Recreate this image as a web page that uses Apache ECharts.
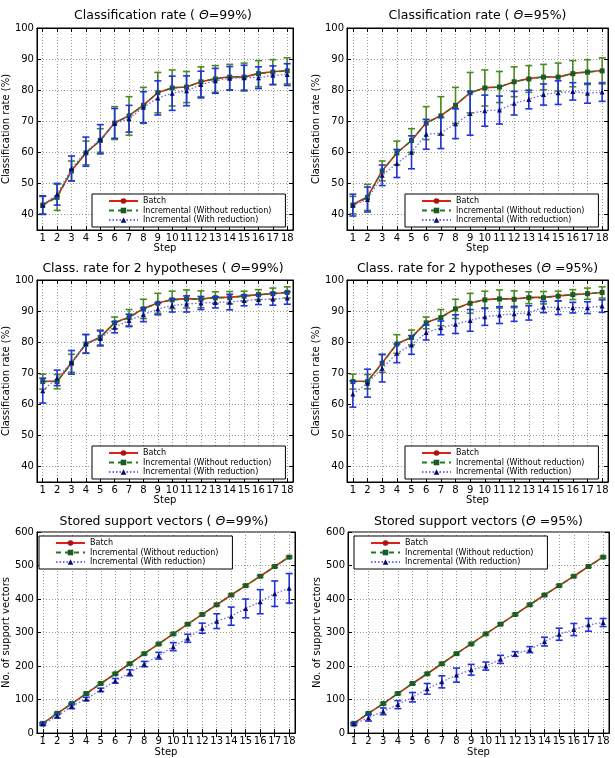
<!DOCTYPE html>
<html>
<head>
<meta charset="utf-8">
<script src="https://cdn.jsdelivr.net/npm/echarts@6/dist/echarts.min.js"></script>
<style>html,body{margin:0;padding:0;background:#fff}#main{width:615px;height:758px}</style>
</head>
<body>
<div id="main"></div>
<script>
// ---- data ----
var steps = [1, 2, 3, 4, 5, 6, 7, 8, 9, 10, 11, 12, 13, 14, 15, 16, 17, 18];
var rateTicks = [40, 50, 60, 70, 80, 90, 100];
var svTicks = [0, 100, 200, 300, 400, 500, 600];

// classification rate, same for both thresholds (batch / incremental without reduction)
var rateBatch = [43.2, 45.7, 54.1, 59.8, 63.8, 69.5, 71.8, 75.2, 79.2, 80.8, 81.0, 82.7, 83.7, 84.3, 84.2, 85.4, 85.9, 86.3];
var rateIncr = [43.0, 45.5, 54.0, 59.8, 63.8, 69.4, 71.7, 75.1, 79.2, 80.7, 81.0, 82.7, 83.6, 84.2, 84.2, 85.3, 85.8, 86.2];
var rateIncrErr = [2.8, 4.2, 3.2, 3.8, 3.8, 5.3, 6.2, 5.8, 6.5, 5.8, 5.0, 4.8, 4.3, 4.1, 4.5, 4.2, 4.0, 4.2];
var rateRed99 = [43.0, 46.5, 54.8, 60.2, 64.2, 69.3, 70.8, 74.5, 77.5, 79.0, 79.8, 81.8, 83.0, 83.8, 84.0, 84.0, 84.8, 85.0];
var rateRed99Err = [3.0, 3.5, 4.0, 4.7, 4.7, 4.8, 4.3, 5.0, 5.5, 5.5, 4.8, 4.3, 4.0, 3.8, 4.0, 3.5, 3.0, 3.5];
var rateRed95 = [43.0, 44.8, 52.6, 56.4, 60.0, 65.8, 66.2, 69.2, 72.5, 73.4, 73.6, 75.8, 77.0, 78.6, 79.2, 79.6, 79.0, 79.4];
var rateRed95Err = [3.5, 4.0, 3.3, 4.5, 5.3, 4.8, 5.0, 4.8, 7.0, 5.0, 4.5, 3.8, 3.0, 3.4, 3.8, 2.8, 3.2, 3.0];

// classification rate for 2 hypotheses
var hypBatch = [67.4, 67.4, 73.3, 79.5, 81.6, 86.3, 88.0, 90.8, 92.6, 93.7, 94.0, 93.9, 94.4, 94.4, 94.9, 95.3, 95.6, 96.0];
var hypIncr = [67.3, 67.3, 73.2, 79.4, 81.5, 86.2, 87.9, 90.7, 92.5, 93.6, 93.9, 93.8, 94.3, 94.3, 94.8, 95.3, 95.6, 96.0];
var hypIncrErr = [2.4, 2.3, 2.9, 3.0, 2.4, 1.9, 2.6, 3.1, 3.2, 2.8, 2.9, 2.7, 1.9, 2.0, 1.6, 1.6, 1.8, 1.8];
var hypRed99 = [64.4, 68.5, 73.5, 79.5, 81.2, 84.8, 87.0, 88.8, 90.7, 91.8, 92.3, 92.6, 92.8, 92.9, 93.4, 93.7, 93.9, 94.2];
var hypRed99Err = [4.0, 2.5, 3.8, 3.0, 2.4, 1.8, 2.0, 2.2, 1.9, 2.1, 2.6, 2.1, 1.8, 2.5, 1.7, 1.6, 2.0, 2.0];
var hypRed95 = [63.3, 66.8, 71.6, 76.4, 79.1, 83.1, 84.6, 85.8, 87.0, 88.2, 88.7, 89.1, 89.4, 91.3, 91.1, 91.1, 91.1, 91.6];
var hypRed95Err = [4.2, 4.5, 4.4, 3.0, 3.0, 2.4, 2.2, 3.0, 3.5, 2.8, 2.7, 2.4, 2.3, 1.8, 2.2, 1.7, 1.9, 2.0];

// stored support vectors
var svBatch = [29, 59, 88, 118, 148, 177, 207, 237, 266, 296, 325, 354, 383, 412, 440, 468, 497, 526];
var svIncr = [29, 59, 88, 118, 148, 177, 207, 237, 266, 296, 325, 354, 383, 412, 440, 468, 497, 525];
var svIncrErr = [2, 3, 3, 3, 3, 3, 3, 3, 3, 3, 3, 3, 3, 3, 3, 3, 3, 3];
var svRed99 = [27, 51, 80, 102, 129, 156, 180, 206, 231, 258, 283, 313, 334, 349, 372, 392, 416, 432];
var svRed99Err = [4, 6, 7, 5, 5, 7, 9, 8, 10, 12, 12, 15, 22, 27, 28, 36, 38, 44];
var svRed95 = [27, 46, 65, 85, 107, 132, 153, 173, 189, 200, 220, 236, 249, 273, 295, 309, 323, 330];
var svRed95Err = [4, 10, 10, 12, 14, 16, 18, 21, 16, 12, 12, 7, 9, 13, 18, 18, 19, 12];

var names = ['Batch', 'Incremental (Without reduction)', 'Incremental (With reduction)'];

var FONT = 'DejaVu Sans';

var panels = [
  {title: 'Classification rate ( {i|Θ}=99%)', yName: 'Classification rate (%)', ymin: 35, ymax: 100, ticks: rateTicks,
   batch: rateBatch, incr: rateIncr, incrErr: rateIncrErr, red: rateRed99, redErr: rateRed99Err,
   grid: [33, 28, 260, 202], titleY: 17, legend: [92, 194]},
  {title: 'Classification rate ( {i|Θ}=95%)', yName: 'Classification rate (%)', ymin: 35, ymax: 100, ticks: rateTicks,
   batch: rateBatch, incr: rateIncr, incrErr: rateIncrErr, red: rateRed95, redErr: rateRed95Err,
   grid: [347, 28, 261, 202], titleY: 17, legend: [405, 194]},
  {title: 'Class. rate for 2 hypotheses ( {i|Θ}=99%)', yName: 'Classification rate (%)', ymin: 35, ymax: 100, ticks: rateTicks,
   batch: hypBatch, incr: hypIncr, incrErr: hypIncrErr, red: hypRed99, redErr: hypRed99Err,
   grid: [33, 280, 260, 202], titleY: 270, legend: [92, 446]},
  {title: 'Class. rate for 2 hypotheses ({i|Θ} =95%)', yName: 'Classification rate (%)', ymin: 35, ymax: 100, ticks: rateTicks,
   batch: hypBatch, incr: hypIncr, incrErr: hypIncrErr, red: hypRed95, redErr: hypRed95Err,
   grid: [347, 280, 261, 202], titleY: 270, legend: [405, 446]},
  {title: 'Stored support vectors ( {i|Θ}=99%)', yName: 'No. of support vectors', ymin: 0, ymax: 600, ticks: svTicks,
   batch: svBatch, incr: svIncr, incrErr: svIncrErr, red: svRed99, redErr: svRed99Err,
   grid: [33, 532, 262, 202], titleY: 523, legend: [39, 536]},
  {title: 'Stored support vectors ({i|Θ} =95%)', yName: 'No. of support vectors', ymin: 0, ymax: 600, ticks: svTicks,
   batch: svBatch, incr: svIncr, incrErr: svIncrErr, red: svRed95, redErr: svRed95Err,
   grid: [348, 532, 261, 202], titleY: 523, legend: [354, 536]}
];

function pairs(vals) {
  return steps.map(function (s, k) { return [s, vals[k]]; });
}
function bars(vals, errs) {
  return steps.map(function (s, k) { return [s, vals[k] - errs[k], vals[k] + errs[k]]; });
}
function errRender(color) {
  return function (params, api) {
    var x = api.value(0);
    var lo = api.coord([x, api.value(1)]);
    var hi = api.coord([x, api.value(2)]);
    var w = 3.5;
    var st = {stroke: color, lineWidth: 1.6};
    return {type: 'group', children: [
      {type: 'line', shape: {x1: lo[0], y1: lo[1], x2: hi[0], y2: hi[1]}, style: st},
      {type: 'line', shape: {x1: lo[0] - w, y1: lo[1], x2: lo[0] + w, y2: lo[1]}, style: st},
      {type: 'line', shape: {x1: hi[0] - w, y1: hi[1], x2: hi[0] + w, y2: hi[1]}, style: st}
    ]};
  };
}

var option = {animation: false, backgroundColor: '#fff', title: [], legend: [], grid: [], xAxis: [], yAxis: [], series: []};

panels.forEach(function (p, i) {
  var g = p.grid;
  option.grid.push({left: g[0], top: g[1], width: g[2], height: g[3], show: true,
    borderColor: '#000', borderWidth: 1, backgroundColor: 'transparent'});
  option.title.push({text: p.title, left: g[0] + g[2] / 2 - 5, top: p.titleY - 13, textAlign: 'center',
    textStyle: {fontFamily: FONT, fontSize: 12.5, fontWeight: 'normal', color: '#000',
      rich: {i: {fontFamily: FONT, fontSize: 12.5, fontStyle: 'italic', color: '#000'}}}});

  var tickStyle = {show: true, inside: true, length: 4, lineStyle: {color: '#000', width: 1}};
  var gridLine = {show: true, lineStyle: {type: [1, 2], color: '#999', width: 1}};
  option.xAxis.push({gridIndex: i, type: 'value', min: 0.6, max: 18.4,
    name: 'Step', nameLocation: 'middle', nameGap: 12,
    nameTextStyle: {fontFamily: FONT, fontSize: 10, color: '#000'},
    axisLine: {show: true, lineStyle: {color: '#000'}},
    axisTick: Object.assign({customValues: steps}, tickStyle),
    axisLabel: {customValues: steps, margin: 3, fontFamily: FONT, fontSize: 10, color: '#000'},
    splitLine: gridLine});
  option.xAxis.push({gridIndex: i, type: 'value', min: 0.6, max: 18.4, position: 'top',
    axisLine: {show: true, lineStyle: {color: '#000'}},
    axisTick: Object.assign({customValues: steps}, tickStyle),
    axisLabel: {show: false}, splitLine: {show: false}});
  option.yAxis.push({gridIndex: i, type: 'value', min: p.ymin, max: p.ymax,
    name: p.yName, nameLocation: 'middle', nameGap: 21,
    nameTextStyle: {fontFamily: FONT, fontSize: 10, color: '#000'},
    axisLine: {show: true, lineStyle: {color: '#000'}},
    axisTick: Object.assign({customValues: p.ticks}, tickStyle),
    axisLabel: {customValues: p.ticks, margin: 3, fontFamily: FONT, fontSize: 10, color: '#000'},
    splitLine: gridLine});
  option.yAxis.push({gridIndex: i, type: 'value', min: p.ymin, max: p.ymax, position: 'right',
    axisLine: {show: true, lineStyle: {color: '#000'}},
    axisTick: Object.assign({customValues: p.ticks}, tickStyle),
    axisLabel: {show: false}, splitLine: {show: false}});

  var xi = 2 * i, yi = 2 * i;
  option.series.push(
    {name: names[0], type: 'line', xAxisIndex: xi, yAxisIndex: yi, data: pairs(p.batch), z: 3,
     symbol: 'circle', symbolSize: 4, itemStyle: {color: '#b01010'},
     lineStyle: {color: '#dd2211', width: 1.6, type: 'solid'}},
    {name: 'errG' + i, type: 'custom', xAxisIndex: xi, yAxisIndex: yi, data: bars(p.incr, p.incrErr),
     renderItem: errRender('#4c8a22'), encode: {x: 0, y: [1, 2]}, z: 4},
    {name: names[1], type: 'line', xAxisIndex: xi, yAxisIndex: yi, data: pairs(p.incr), z: 5,
     symbol: 'rect', symbolSize: 5, itemStyle: {color: '#1d5a2a'},
     lineStyle: {color: '#1f7a1f', width: 1.4, type: [5, 4]}},
    {name: 'errB' + i, type: 'custom', xAxisIndex: xi, yAxisIndex: yi, data: bars(p.red, p.redErr),
     renderItem: errRender('#2233dd'), encode: {x: 0, y: [1, 2]}, z: 6},
    {name: names[2], type: 'line', xAxisIndex: xi, yAxisIndex: yi, data: pairs(p.red), z: 7,
     symbol: 'triangle', symbolSize: 5, itemStyle: {color: '#0c0c66'},
     lineStyle: {color: '#6a6af0', width: 1.3, type: [1.5, 2]}}
  );

  option.legend.push({data: names, left: p.legend[0], top: p.legend[1], orient: 'vertical',
    backgroundColor: '#fff', borderColor: '#000', borderWidth: 1, borderRadius: 0,
    padding: [3, 14, 3, 16], itemGap: 1.5, itemWidth: 29, itemHeight: 7, z: 20,
    selectedMode: false,
    textStyle: {fontFamily: FONT, fontSize: 8, color: '#000'}});
});

var myChart = echarts.init(document.getElementById('main'));
myChart.setOption(option);
</script>
</body>
</html>
